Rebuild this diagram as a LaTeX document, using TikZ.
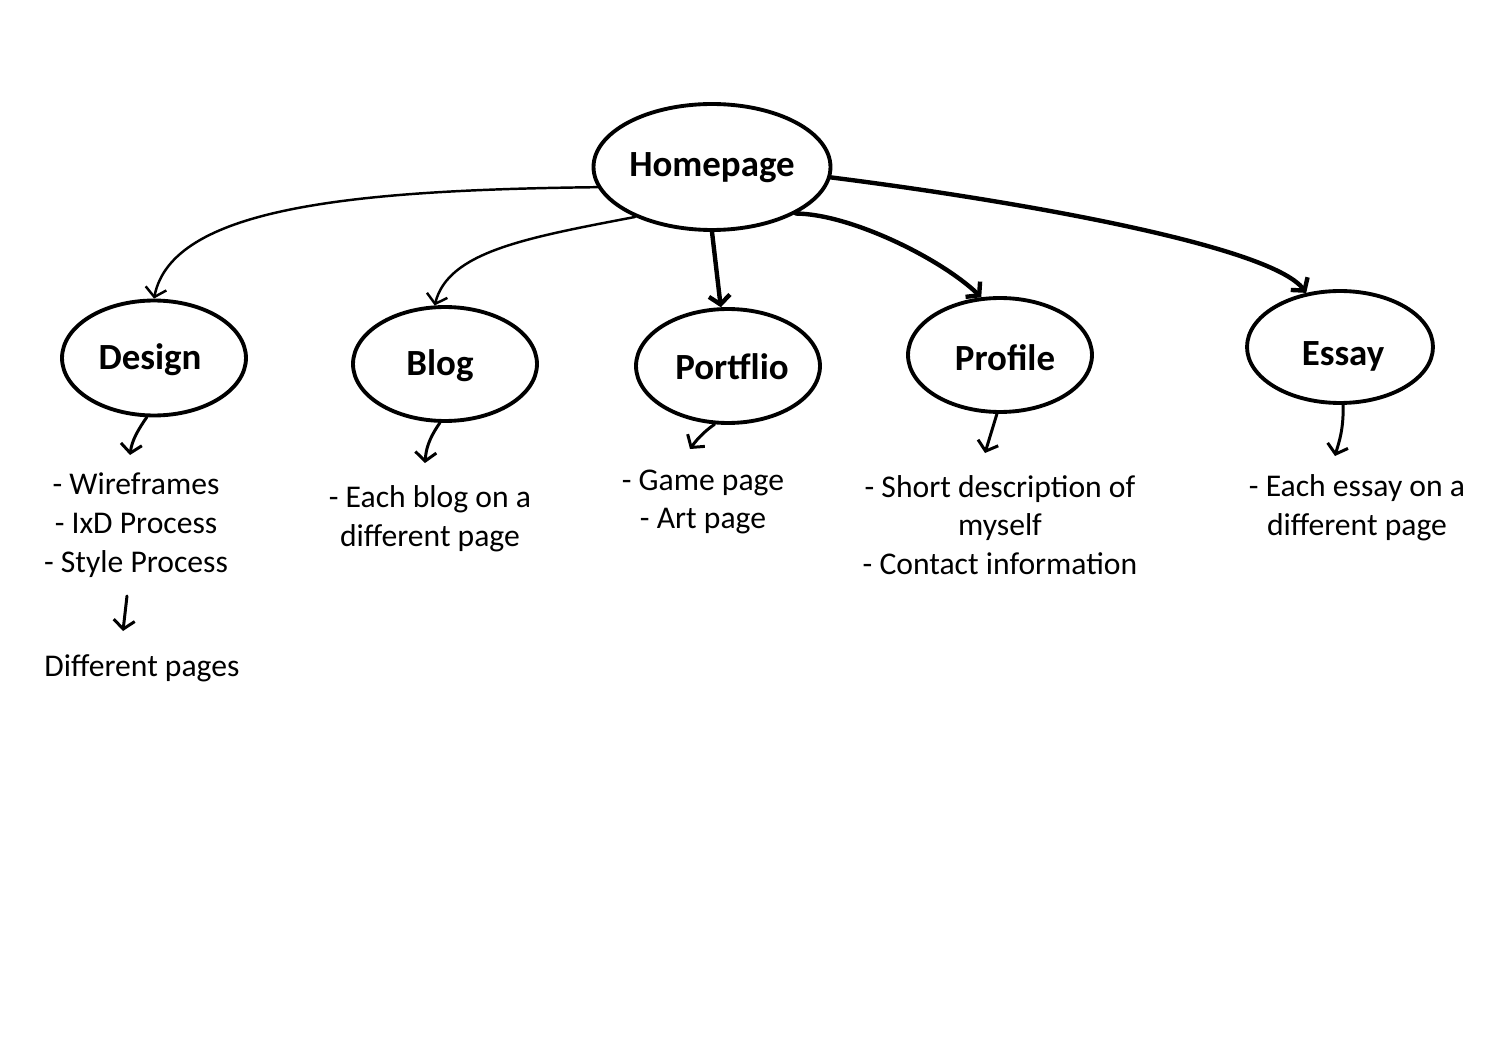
\documentclass[tikz,border=0pt]{standalone}
\usepackage{fontspec}
\setmainfont{Carlito}
\usetikzlibrary{shapes.geometric,arrows.meta}
\begin{document}
\begin{tikzpicture}[x=0.02cm,y=-0.02cm,
  bubble/.style={ellipse,draw,line width=2.2pt,inner sep=0pt,minimum width=3.68cm,minimum height=2.3cm},
  title/.style={inner sep=0pt,font=\fontsize{21}{24}\selectfont\bfseries},
  item/.style={align=center,font=\fontsize{18}{22.1}\selectfont,inner sep=0pt},
  link/.style={-{Straight Barb[length=5pt,width=12pt]},line width=1.4pt,line cap=round},
  heavy/.style={link,line width=2.5pt},
  small/.style={-{Straight Barb[length=5pt,width=12pt]},line width=1.7pt,line cap=round}]
\useasboundingbox[fill=white] (0,0) rectangle (1509,1054);

% main nodes
\node[bubble,minimum width=4.74cm,minimum height=2.52cm] (home) at (712,167) {};
\node[bubble] (design) at (154,358) {};
\node[bubble,minimum height=2.28cm] (blog) at (445,364) {};
\node[bubble,minimum height=2.28cm] (port) at (728,366) {};
\node[bubble,minimum height=2.28cm] (prof) at (1000,355) {};
\node[bubble,minimum width=3.72cm,minimum height=2.24cm] (essay) at (1340,347) {};

\node[title] (homet) at (712,168) {Homepage};
\node[title] (designt) at (150,360) {Design};
\node[title] (blogt) at (440,366) {Blog};
\node[title] (portt) at (732,367) {Portflio};
\node[title] (proft) at (1005,358) {Profile};
\node[title] (essayt) at (1343,356) {Essay};

% text lists
\node[item] (dlist) at (136,525) {- Wireframes\\- IxD Process\\- Style Process};
\node[item] (dpages) at (142,668) {Different pages};
\node[item] (blist) at (430,519) {- Each blog on a\\different page};
\node[item] (plist) at (703,502) {- Game page\\- Art page};
\node[item] (flist) at (1000,525) {- Short description of\\myself\\- Contact information};
\node[item] (elist) at (1357,508) {- Each essay on a\\different page};

% connectors from homepage
\draw[link] (home.190) .. controls (350,190) and (172,208) .. (design.north);
\draw[link] (home.213) .. controls (525,238) and (448,252) .. (blog.100);
\draw[heavy] (home.south) -- (port.97);
\draw[heavy] (home.331) .. controls (850,214) and (940,258) .. (prof.108);
\draw[heavy] (home.355) .. controls (1010,200) and (1270,245) .. (essay.122);

% small arrows
\coordinate (dt) at (130,455);
\coordinate (bt) at (425,463);
\coordinate (pt) at (690,449);
\coordinate (ft) at (985,453);
\coordinate (et) at (1335,456);
\coordinate (ds) at (127,596);
\coordinate (dt2) at (123,631);
\draw[small] (design.263) .. controls (138,430) and (132,440) .. (dt);
\draw[small] (blog.265) .. controls (428,440) and (426,450) .. (bt);
\draw[small] (port.257) .. controls (702,433) and (695,442) .. (pt);
\draw[small] (prof.267) -- (ft);
\draw[small] (essay.273) .. controls (1344,430) and (1338,445) .. (et);
\draw[small] (ds) -- (dt2);
\end{tikzpicture}
\end{document}
